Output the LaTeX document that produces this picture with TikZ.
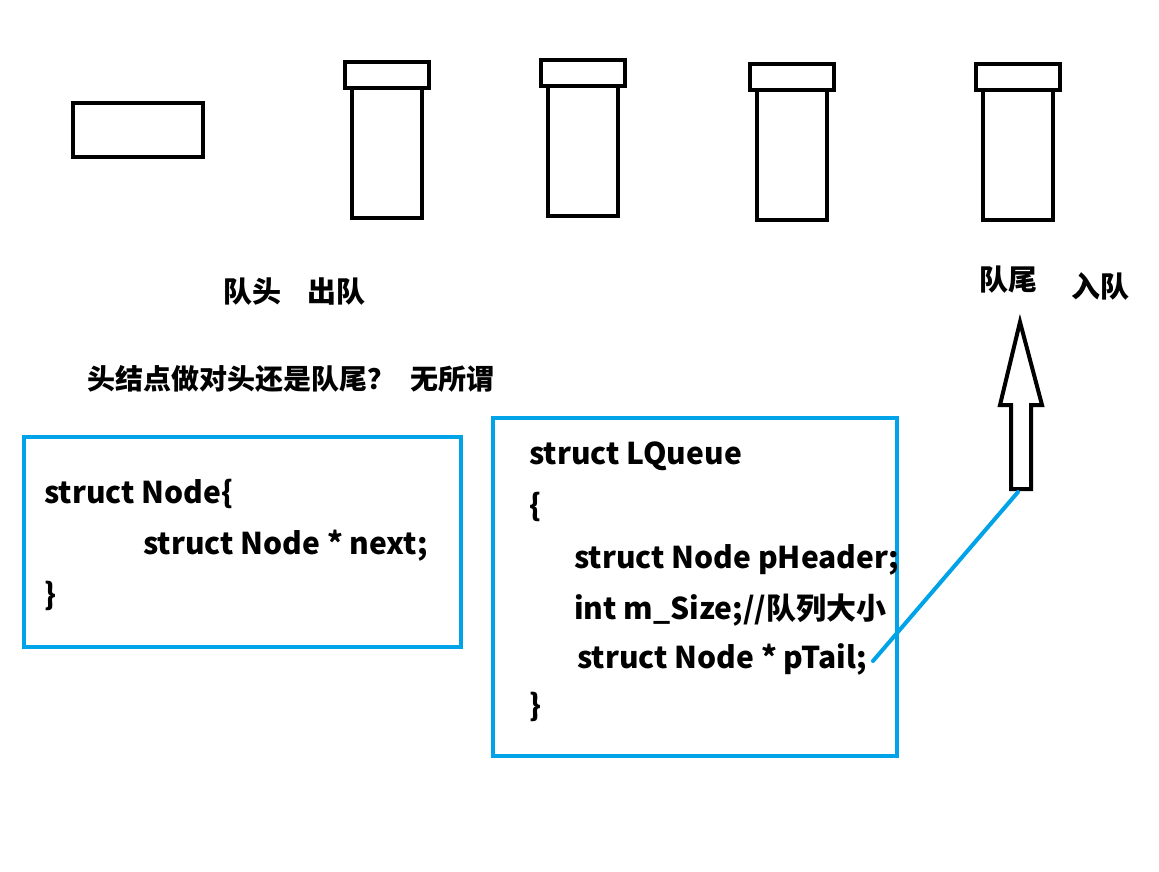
\documentclass[tikz,border=0pt]{standalone}
\usepackage{fontspec}
\setmainfont{Noto Sans CJK SC}
\definecolor{paintblue}{RGB}{0,162,232}
\begin{document}
\begin{tikzpicture}[x=1pt,y=-1pt,
  blk/.style={draw=black,line width=4pt,fill=white},
  bluebox/.style={draw=paintblue,line width=4pt},
  lbl/.style={anchor=base west,inner sep=0pt,font=\fontsize{29}{33}\selectfont\bfseries},
  code/.style={anchor=base west,inner sep=0pt,font=\fontsize{30}{34}\selectfont\bfseries},
  link/.style={draw=paintblue,line width=4pt,line cap=round}]
\useasboundingbox (0,0) rectangle (1159,871);
\fill[white] (0,0) rectangle (1159,871);
% head rectangle
\draw[blk] (73,103) rectangle (203,157);
% columns
\foreach \n/\cx/\cy in {c1/386.5/60, c2/583/58, c3/792/62, c4/1017.5/62}{
  \draw[blk] (\cx-35,\cy+28) rectangle (\cx+35,\cy+158);
  \draw[blk] (\cx-42,\cy+2) rectangle (\cx+42,\cy+28);
}
% labels
\node[lbl] (head) at (223,302) {队头\hspace{0.9em}出队};
\node[lbl] (tail) at (979,290) {队尾};
\node[lbl] (enq) at (1071,297) {入队};
\node[lbl,font=\fontsize{28}{32}\selectfont\bfseries] (q) at (87,389) {头结点做对头还是队尾？\hspace{0.55em}无所谓};
% left box
\draw[bluebox] (24,437) rectangle (461,647);
\node[code] (n1) at (44,503) {struct Node\{};
\node[code] (n2) at (143,554) {struct Node * next;};
\node[code] (n3) at (44,605) {\}};
% right box
\draw[bluebox] (493,418) rectangle (897,756);
\node[code] (l1) at (529,464) {struct LQueue};
\node[code] (l2) at (529,516) {\{};
\node[code] (l3) at (574,568) {struct Node pHeader;};
\node[code] (l4) at (574,619) {int m\_Size;//队列大小};
\node[code] (l5) at (577,668) {struct Node * pTail;};
\node[code] (l6) at (529,716) {\}};
% hollow arrow
\draw[blk,line join=miter] (1020,322) -- (1042,405) -- (1031,405) -- (1031,489) -- (1011,489) -- (1011,405) -- (1000,405) -- cycle;
\coordinate (abot) at (1018,492);
\coordinate (ptl) at (873,661);
\draw[link] (ptl) -- (abot);
\end{tikzpicture}
\end{document}
